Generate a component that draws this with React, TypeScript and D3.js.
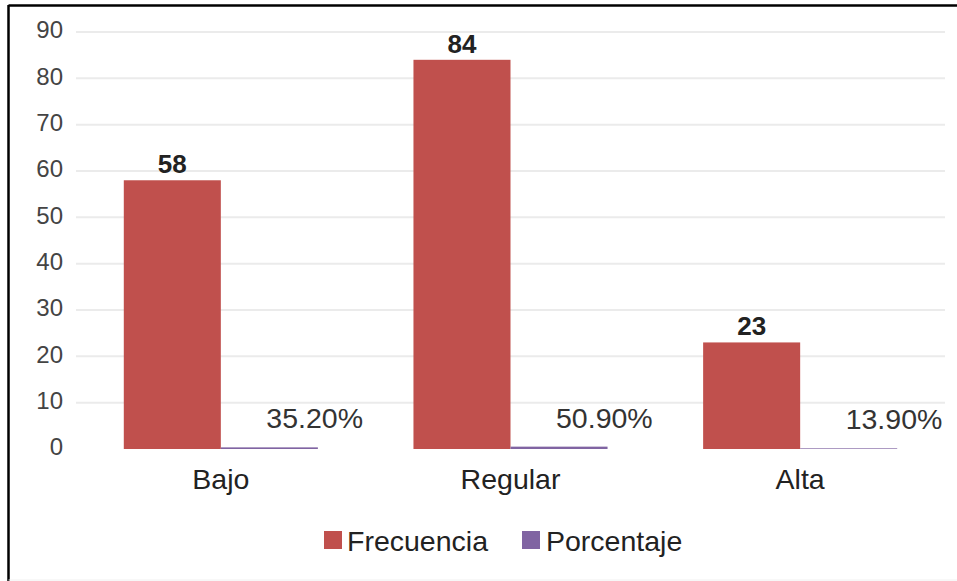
import React from "react";
import * as d3 from "d3";

const categories = ["Bajo", "Regular", "Alta"];
const series = ["Frecuencia", "Porcentaje"];
const frecuencia = [58, 84, 23];
const porcentaje = [0.352, 0.509, 0.139];
const porcentajeLabels = ["35.20%", "50.90%", "13.90%"];
const yTicks = [0, 10, 20, 30, 40, 50, 60, 70, 80, 90];
const colors = ["#c0504d", "#8064a2"];

const W = 957;
const H = 581;
const FONT = "'Liberation Sans', Arial, sans-serif";

export default function App() {
  const y = d3.scaleLinear().domain([0, 90]).range([449, 32]);
  const x0 = d3.scaleBand<string>().domain(categories).range([76, 945]).padding(0);
  const groupW = x0.bandwidth() * 0.67;
  const x1 = d3.scaleBand<string>().domain(series).range([0, groupW]).padding(0);
  const values = [frecuencia, porcentaje];

  return (
    <svg
      width={W}
      height={H}
      style={{ position: "absolute", left: 0, top: 0, background: "#fff" }}
      fontFamily={FONT}
    >
      <rect x={0} y={0} width={W} height={H} fill="#fff" />
      {/* frame */}
      <line x1={8.5} x2={W} y1={5.5} y2={5.5} stroke="#000" strokeWidth={2.5} />
      <line x1={8.5} x2={8.5} y1={5} y2={H} stroke="#000" strokeWidth={2.5} />
      <line x1={8.5} x2={W} y1={580} y2={580} stroke="#f0f0f0" strokeWidth={1} />

      {/* gridlines */}
      {yTicks.filter((t) => t > 0).map((t) => (
        <line key={t} x1={76} x2={945} y1={y(t)} y2={y(t)} stroke="#ebebeb" strokeWidth={2} />
      ))}
      {/* y tick labels */}
      {yTicks.map((t) => (
        <text
          key={t}
          x={63}
          y={y(t)}
          textAnchor="end"
          dominantBaseline="middle"
          fontSize={24}
          fill="#444"
        >
          {t}
        </text>
      ))}

      {/* bars */}
      {categories.map((c, i) => {
        const gx = (x0(c) as number) + (x0.bandwidth() - groupW) / 2;
        return (
          <g key={c}>
            {series.map((s, si) => {
              const v = values[si][i];
              const bx = gx + (x1(s) as number);
              return (
                <rect
                  key={s}
                  x={bx}
                  y={y(v)}
                  width={x1.bandwidth()}
                  height={y(0) - y(v)}
                  fill={colors[si]}
                />
              );
            })}
            <text
              x={gx + (x1("Frecuencia") as number) + x1.bandwidth() / 2}
              y={y(frecuencia[i]) - 7}
              textAnchor="middle"
              fontSize={26}
              fontWeight="bold"
              fill="#222"
            >
              {frecuencia[i]}
            </text>
            <text
              x={gx + (x1("Porcentaje") as number) + x1.bandwidth() / 2 - 3}
              y={y(porcentaje[i]) - 19}
              textAnchor="start"
              fontSize={28.5}
              fill="#333"
            >
              {porcentajeLabels[i]}
            </text>
            <text
              x={(x0(c) as number) + x0.bandwidth() / 2}
              y={489}
              textAnchor="middle"
              fontSize={28.5}
              fill="#222"
            >
              {c}
            </text>
          </g>
        );
      })}

      {/* legend */}
      <rect x={324} y={531} width={18} height={18} fill={colors[0]} />
      <text x={347} y={551} fontSize={28.5} fill="#222">Frecuencia</text>
      <rect x={522} y={531} width={18} height={18} fill={colors[1]} />
      <text x={546} y={551} fontSize={28.5} fill="#222">Porcentaje</text>
    </svg>
  );
}
